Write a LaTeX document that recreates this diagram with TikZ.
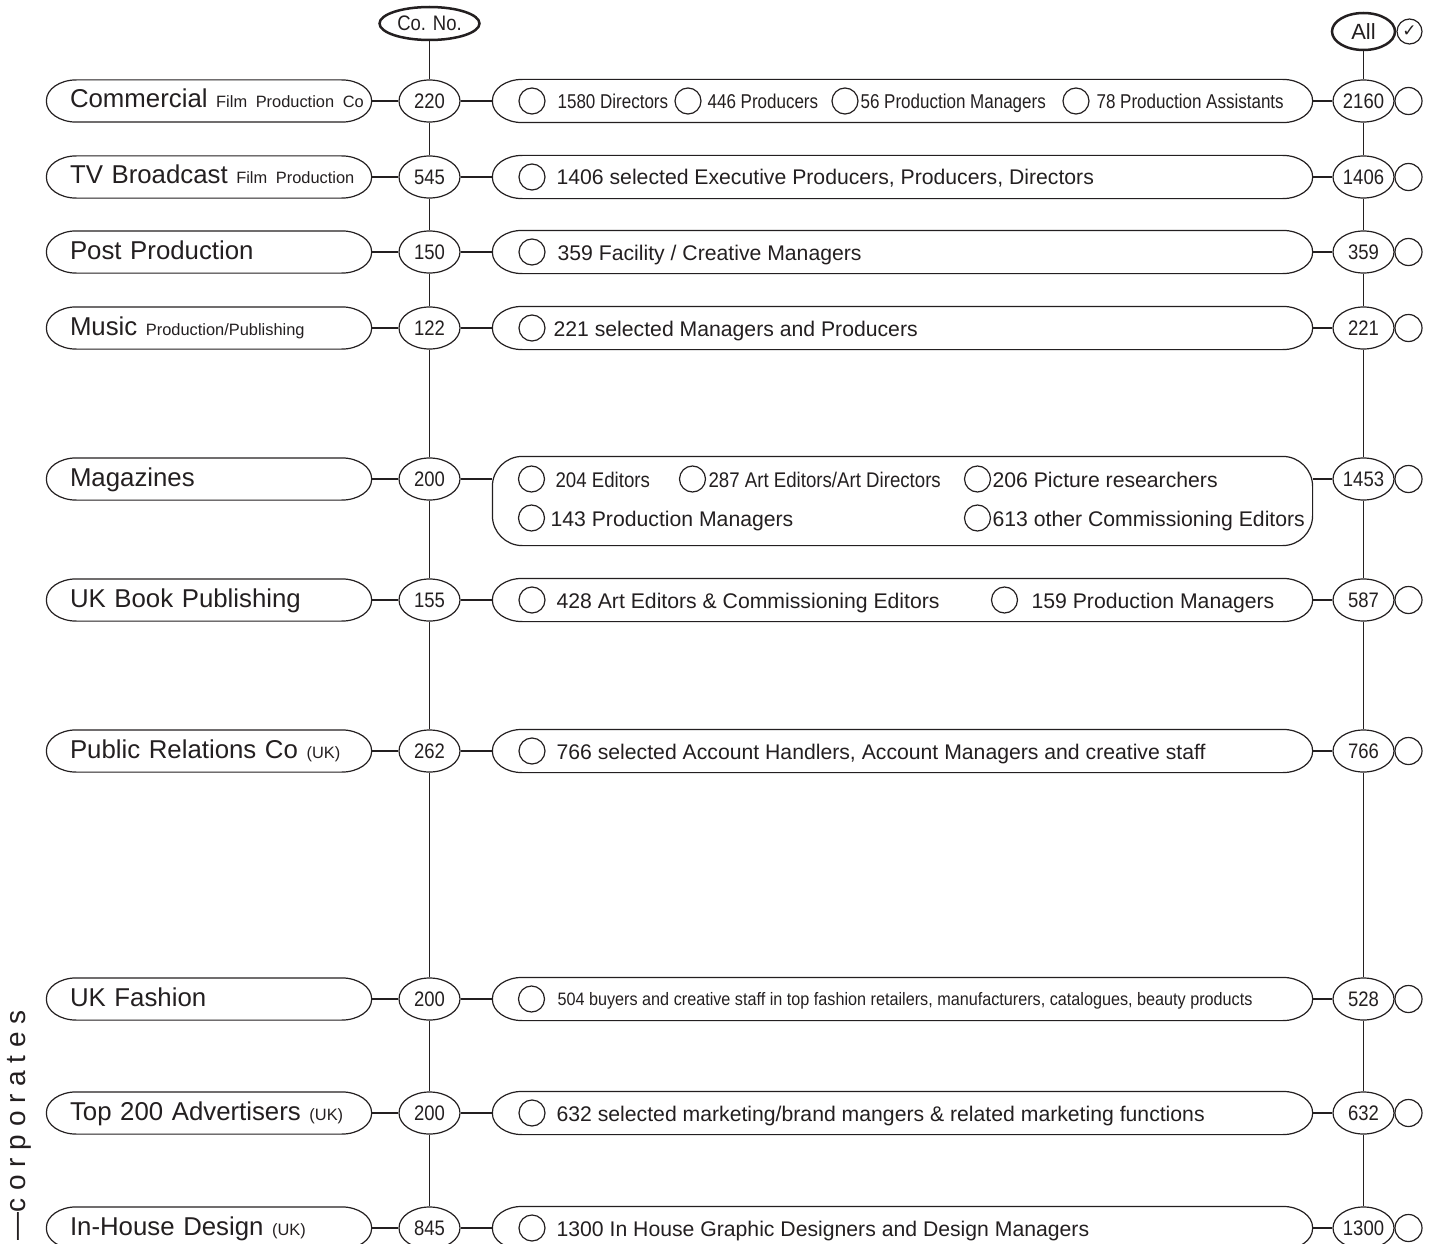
\documentclass[tikz,border=0pt]{standalone}
\usepackage{fontspec}
\setmainfont{Liberation Sans}
\newfontfamily\narrowA{Liberation Sans}[FakeStretch=0.85]
\newfontfamily\narrowB{Liberation Sans}[FakeStretch=0.88]
\newfontfamily\narrowC{Liberation Sans}[FakeStretch=0.9]
\newfontfamily\symbfont{DejaVu Sans}
\usetikzlibrary{shapes.geometric}
\definecolor{ink}{RGB}{35,31,32}
\newcommand\lbsize{\fontsize{25.8}{30}\selectfont}
\newcommand\itsize{\fontsize{21.2}{25}\selectfont}
\newcommand\sm[1]{{\fontsize{16.4}{20}\selectfont #1}}
\newcommand\capsule[2]{\draw ([xshift=30]#1.north west) -- ([xshift=-30]#1.north east)
  arc[start angle=90,end angle=0,x radius=30,y radius=#2] -- ([yshift=#2]#1.south east)
  arc[start angle=0,end angle=-90,x radius=30,y radius=#2] -- ([xshift=30]#1.south west)
  arc[start angle=270,end angle=180,x radius=30,y radius=#2] -- ([yshift=-#2]#1.north west)
  arc[start angle=180,end angle=90,x radius=30,y radius=#2] -- cycle;}

\begin{document}
\begin{tikzpicture}
[x=1pt,y=1pt,line width=1.2,color=ink,
sector/.style={rectangle,minimum height=41,text width=278,inner xsep=23,inner ysep=0,align=left,text height=19,text depth=5,font=\lbsize},
band/.style={rectangle,minimum width=819,minimum height=42,inner sep=0},
num/.style={ellipse,draw,minimum width=61,minimum height=42,inner sep=0,font=\narrowB\fontsize{21}{24}\selectfont},
head/.style={ellipse,draw,line width=2.5,inner sep=0},
tick/.style={circle,draw,minimum size=27,inner sep=0},
box/.style={circle,draw,minimum size=26,inner sep=0},
itm/.style={anchor=base west,inner sep=0,font=\itsize}]
\useasboundingbox (0,0) rectangle (1433,-1244);
\clip (0,0) rectangle (1433,-1244);

\node[head,minimum width=100,minimum height=33,font=\narrowB\fontsize{21}{24}\selectfont] (nL0) at (429.5,-23.5) {Co. No.};
\node[head,minimum width=63,minimum height=37,font=\fontsize{22}{26}\selectfont] (nR0) at (1363.5,-31.5) {All};
\node[tick,minimum size=25] (chk) at (1409.5,-31.5) {\symbfont\fontsize{17}{20}\selectfont ✓};

\foreach \i/\y/\txt/\a/\b [remember=\i as \p (initially 0)] in
 {1/101/{Commercial \sm{Film Production Co}}/220/2160,
  2/177/{TV Broadcast \sm{Film Production}}/545/1406,
  3/252/Post Production/150/359,
  4/328/{Music \sm{Production/Publishing}}/122/221,
  5/479/Magazines/200/1453,
  6/600/UK Book Publishing/155/587,
  7/751/{Public Relations Co \sm{(UK)}}/262/766,
  8/999/UK Fashion/200/528,
  9/1113/{Top 200 Advertisers \sm{(UK)}}/200/632,
  10/1228/{In-House Design \sm{(UK)}}/845/1300}
{
\node[sector] (s\i) at (209,-\y) {\mbox{\txt}};
\capsule{s\i}{20.5}
\node[num] (nL\i) at (429.5,-\y) {\a};
\node[num] (nR\i) at (1363.5,-\y) {\b};
\node[tick] (c\i) at (1408.5,-\y) {};
\draw (s\i) -- (nL\i);
\draw (nL\p) -- (nL\i);
\draw (nR\p) -- (nR\i);
}

\foreach \i/\y in {1/101,2/177,3/252,4/328,6/600,7/751,8/999,9/1113,10/1228}
{
\node[band] (m\i) at (902.5,-\y) {};
\capsule{m\i}{21}
\draw (nL\i) -- (m\i);
\draw (m\i) -- (nR\i);
}
\node[band,minimum height=88] (m5) at (902.5,-501) {};
\capsule{m5}{30}
\draw (nL5) -- (nL5 -| m5.west);
\draw (m5.east |- nR5) -- (nR5);

\node[box] (b1a) at (532,-101) {};
\node[itm,font=\narrowA\fontsize{20}{24}\selectfont] (t1a) at (557,-108.5) {1580 Directors};
\node[box] (b1b) at (688,-101) {};
\node[itm,font=\narrowA\fontsize{20}{24}\selectfont] (t1b) at (707,-108.5) {446 Producers};
\node[box] (b1c) at (845,-101) {};
\node[itm,font=\narrowA\fontsize{20}{24}\selectfont] (t1c) at (860,-108.5) {56 Production Managers};
\node[box] (b1d) at (1076,-101) {};
\node[itm,font=\narrowA\fontsize{20}{24}\selectfont] (t1d) at (1096,-108.5) {78 Production Assistants};

\foreach \i/\y/\x/\txt in
 {2/177/556/{1406 selected Executive Producers, Producers, Directors},
  3/252/557/{359 Facility / Creative Managers},
  4/328/553/{221 selected Managers and Producers},
  7/751/556/{766 selected Account Handlers, Account Managers and creative staff},
  9/1113/556/{632 selected marketing/brand mangers \& related marketing functions},
  10/1228/556/{1300 In House Graphic Designers and Design Managers}}
{
\node[box] (b\i) at (532,-\y) {};
\node[itm] (t\i) at (\x,-\y-8) {\txt};
}

\node[box] (b5a) at (531.5,-479) {};
\node[itm,font=\narrowB\itsize] (t5a) at (555,-487) {204 Editors};
\node[box] (b5b) at (692.5,-479) {};
\node[itm,font=\narrowB\itsize] (t5b) at (708,-487) {287 Art Editors/Art Directors};
\node[box] (b5c) at (977.5,-479) {};
\node[itm] (t5c) at (992,-487) {206 Picture researchers};
\node[box] (b5d) at (531.5,-518) {};
\node[itm] (t5d) at (550,-526) {143 Production Managers};
\node[box] (b5e) at (977.5,-518) {};
\node[itm] (t5e) at (992,-526) {613 other Commissioning Editors};

\node[box] (b6a) at (532,-600) {};
\node[itm] (t6a) at (556,-608) {428 Art Editors \& Commissioning Editors};
\node[box] (b6b) at (1004.5,-600) {};
\node[itm] (t6b) at (1031,-608) {159 Production Managers};

\node[box] (b8) at (531.5,-999) {};
\node[itm,font=\narrowC\fontsize{18}{22}\selectfont] (t8) at (557,-1005.5) {504 buyers and creative staff in top fashion retailers, manufacturers, catalogues, beauty products};

\node[rotate=90,anchor=base west,inner sep=0,font=\fontsize{28}{32}\selectfont] (side) at (25,-1241) {—c o r p o r a t e s};
\end{tikzpicture}
\end{document}
